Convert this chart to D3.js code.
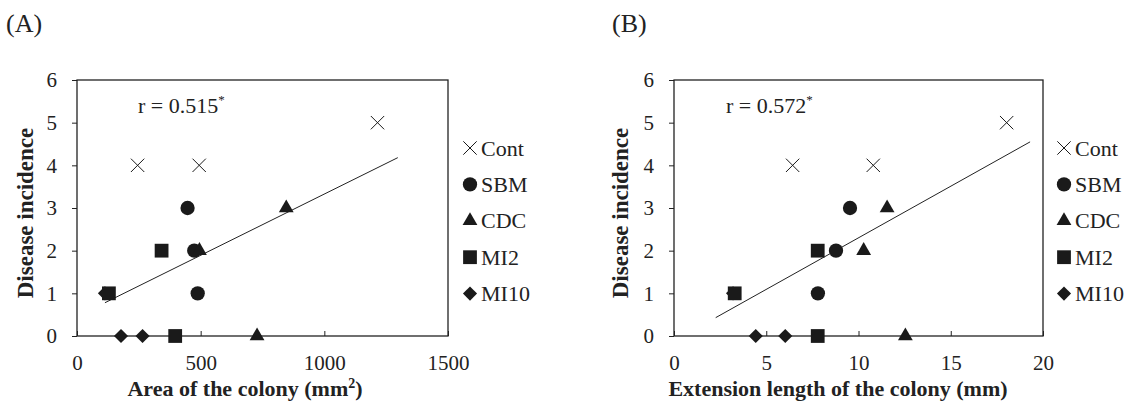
<!DOCTYPE html>
<html>
<head>
<meta charset="utf-8">
<script src="https://cdn.jsdelivr.net/npm/d3@7"></script>
<style>
  body { margin: 0; background: #fff; }
  svg { display: block; }
  text { font-family: "Liberation Serif", "Times New Roman", serif; fill: #222; }
</style>
</head>
<body>
<div id="chart"></div>
<script>
// groups, in legend order
const groups = ["Cont", "SBM", "CDC", "MI2", "MI10"];

// disease incidence of each point (same samples in both panels)
const contDisease = [4, 4, 5];
const sbmDisease = [3, 2, 1];
const cdcDisease = [3, 2, 0];
const mi2Disease = [2, 1, 0];
const mi10Disease = [1, 0, 0];

// panel A: area of the colony (mm2)
const contArea = [245, 494, 1215];
const sbmArea = [447, 474, 488];
const cdcArea = [846, 495, 728];
const mi2Area = [342, 129, 397];
const mi10Area = [113, 178, 265];

// panel B: extension length of the colony (mm)
const contLength = [6.43, 10.8, 18.03];
const sbmLength = [9.54, 8.78, 7.8];
const cdcLength = [11.55, 10.28, 12.54];
const mi2Length = [7.79, 3.29, 7.79];
const mi10Length = [3.2, 4.43, 6.03];

// regression lines (end points)
const trendAreaX = [113, 1297];
const trendAreaY = [0.78, 4.18];
const trendLengthX = [2.26, 19.3];
const trendLengthY = [0.43, 4.55];

const yTicks = [0, 1, 2, 3, 4, 5, 6];
const areaTicks = [0, 500, 1000, 1500];
const lengthTicks = [0, 5, 10, 15, 20];

const width = 1134, height = 406;
const ink = "#1a1a1a";

const svg = d3.select("#chart").append("svg")
  .attr("width", width)
  .attr("height", height);

function markerPath(g) {
  if (g === "Cont") return d3.symbol(d3.symbolX, 118)();
  if (g === "SBM") return d3.symbol(d3.symbolCircle, 160)();
  if (g === "CDC") return d3.symbol(d3.symbolTriangle, 95)();
  if (g === "MI2") return d3.symbol(d3.symbolSquare, 190)();
  return d3.symbol(d3.symbolSquare, 100)();   // diamond = rotated square
}

function addMarker(g, cx, cy) {
  const rot = g === "MI10" ? " rotate(45)" : "";
  svg.append("path")
    .attr("d", markerPath(g))
    .attr("transform", "translate(" + cx + "," + cy + ")" + rot)
    .attr("fill", g === "Cont" ? "none" : ink)
    .attr("stroke", ink)
    .attr("stroke-width", g === "Cont" ? 1 : 0);
}

function drawPanel(p) {
  const x = d3.scaleLinear().domain(p.xDomain).range([p.left, p.right]);
  const y = d3.scaleLinear().domain([0, 6]).range([p.bottom, p.top]);

  // frame
  svg.append("rect")
    .attr("x", p.left).attr("y", p.top)
    .attr("width", p.right - p.left).attr("height", p.bottom - p.top)
    .attr("fill", "none").attr("stroke", "#222").attr("stroke-width", 1.3);

  // y axis
  const yAxis = svg.append("g")
    .attr("transform", "translate(" + p.left + ",0)")
    .call(d3.axisLeft(y).tickValues(yTicks).tickFormat(d3.format("d")).tickSize(5).tickPadding(15));
  yAxis.attr("font-family", null);
  yAxis.select(".domain").remove();
  yAxis.selectAll(".tick line").attr("stroke", "#222");
  yAxis.selectAll(".tick text").attr("font-size", 21).attr("fill", "#222");

  // x axis, ticks pointing inward
  const xAxis = svg.append("g")
    .attr("transform", "translate(0," + p.bottom + ")")
    .call(d3.axisBottom(x).tickValues(p.xTicks).tickFormat(d3.format("d"))
      .tickSizeInner(-5).tickSizeOuter(0).tickPadding(19));
  xAxis.attr("font-family", null);
  xAxis.select(".domain").remove();
  xAxis.selectAll(".tick line").attr("stroke", "#222");
  xAxis.selectAll(".tick text").attr("font-size", 21).attr("fill", "#222");

  // trend line
  svg.append("line")
    .attr("x1", x(p.trendX[0])).attr("y1", y(p.trendY[0]))
    .attr("x2", x(p.trendX[1])).attr("y2", y(p.trendY[1]))
    .attr("stroke", "#222").attr("stroke-width", 1);

  // points: MI10 first so the squares sit on top
  const order = ["MI10", "Cont", "SBM", "CDC", "MI2"];
  order.forEach(function (g) {
    const i = groups.indexOf(g);
    const xs = p.xs[i], ys = p.ys[i];
    xs.forEach(function (v, k) {
      addMarker(g, x(v), y(ys[k]));
    });
  });

  // r label
  const rt = svg.append("text")
    .attr("x", p.rX).attr("y", 113)
    .attr("font-size", 22)
    .text(p.rText);
  rt.append("tspan").attr("font-size", 13).attr("dy", -9).text("*");

  // legend
  groups.forEach(function (g, i) {
    const ly = 148 + i * 36.4;
    addMarker(g, p.legendX, ly);
    svg.append("text")
      .attr("x", p.legendX + 11).attr("y", ly + 7.5)
      .attr("font-size", 22)
      .text(g);
  });

  // axis titles
  const xt = svg.append("text")
    .attr("x", p.xTitleX).attr("y", 396)
    .attr("text-anchor", "middle")
    .attr("font-size", 22).attr("font-weight", "bold")
    .text(p.xTitle);
  if (p.xTitleSup) {
    xt.append("tspan").attr("font-size", 14).attr("dy", -8).text(p.xTitleSup);
    xt.append("tspan").attr("dy", 8).text(")");
  }

  svg.append("text")
    .attr("transform", "translate(" + p.yTitleX + ",213) rotate(-90)")
    .attr("text-anchor", "middle")
    .attr("font-size", 23).attr("font-weight", "bold")
    .text("Disease incidence");

  // panel label
  svg.append("text")
    .attr("x", p.labelX).attr("y", 32)
    .attr("font-size", 26)
    .text(p.label);
}

drawPanel({
  label: "(A)", labelX: 6,
  left: 77, right: 448, top: 80, bottom: 336,
  xDomain: [0, 1500], xTicks: areaTicks,
  xs: [contArea, sbmArea, cdcArea, mi2Area, mi10Area],
  ys: [contDisease, sbmDisease, cdcDisease, mi2Disease, mi10Disease],
  trendX: trendAreaX, trendY: trendAreaY,
  rText: "r = 0.515", rX: 138,
  legendX: 470,
  xTitle: "Area of the colony (mm", xTitleSup: "2", xTitleX: 245,
  yTitleX: 33
});

drawPanel({
  label: "(B)", labelX: 612,
  left: 674, right: 1043, top: 80, bottom: 336,
  xDomain: [0, 20], xTicks: lengthTicks,
  xs: [contLength, sbmLength, cdcLength, mi2Length, mi10Length],
  ys: [contDisease, sbmDisease, cdcDisease, mi2Disease, mi10Disease],
  trendX: trendLengthX, trendY: trendLengthY,
  rText: "r = 0.572", rX: 726,
  legendX: 1064,
  xTitle: "Extension length of the colony (mm)", xTitleSup: null, xTitleX: 838,
  yTitleX: 628
});
</script>
</body>
</html>
